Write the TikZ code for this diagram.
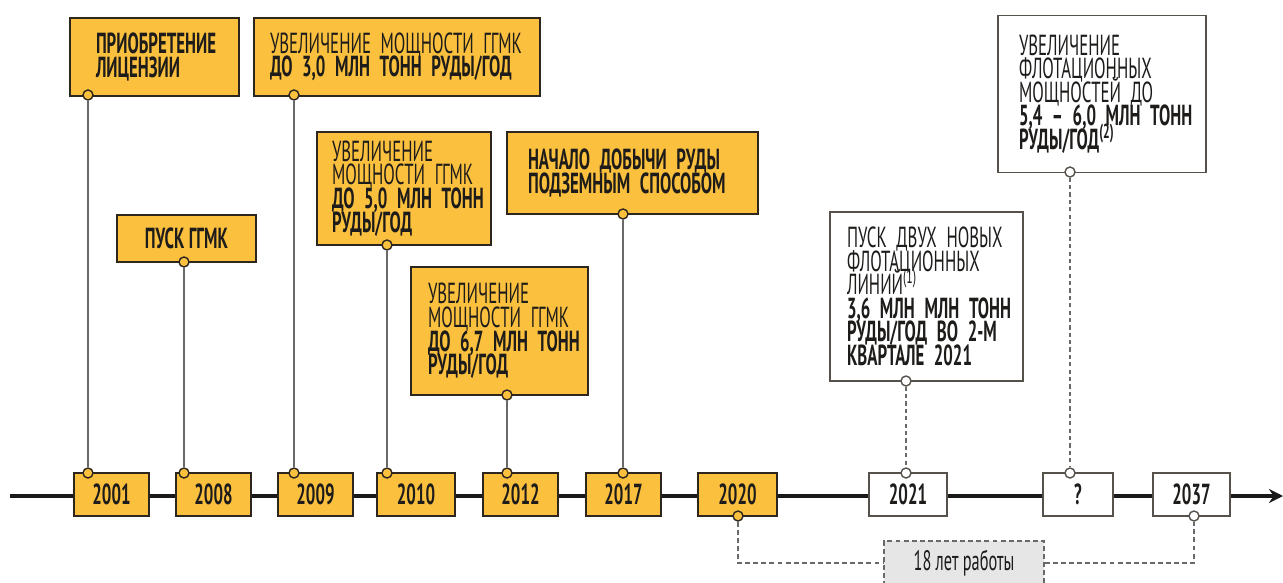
\documentclass[tikz,border=0pt]{standalone}
\usepackage{fontspec}
\setmainfont{PT Sans}[FakeStretch=0.58]
\usetikzlibrary{arrows.meta}

\definecolor{gold}{RGB}{250,192,62}
\definecolor{edge}{RGB}{45,38,30}
\definecolor{stem}{RGB}{105,105,105}
\definecolor{ink}{RGB}{30,28,26}
\definecolor{spanfill}{RGB}{230,230,230}
\newlength\pxu
\setlength\pxu{0.02cm}
\newcommand\tightsp{\spaceskip=2.4pt\relax\lineskiplimit=-20pt\relax}

\tikzset{
  ybox/.style={draw=edge, fill=gold, line width=0.9pt, text=ink, align=left,
    inner ysep=0pt, font=\fontsize{16.5}{13.4}\selectfont\tightsp},
  wbox/.style={ybox, draw=edge!80, fill=white},
  yr/.style={ybox, align=center, inner sep=0pt, minimum width=75\pxu,
    minimum height=43\pxu, font=\fontsize{16.5}{14}\selectfont\bfseries},
  yrw/.style={yr, draw=edge!80, fill=white},
  dot/.style={circle, draw=edge, fill=gold, line width=0.8pt, inner sep=0pt,
    minimum size=10\pxu},
  wdot/.style={dot, draw=edge!80, fill=white},
  stemline/.style={draw=stem, line width=1.1pt},
  dstem/.style={stemline, dash pattern=on 2.4pt off 1.8pt},
  brk/.style={draw=stem, line width=1pt, dash pattern=on 2.8pt off 1.8pt},
  spanbox/.style={draw=stem, fill=spanfill, line width=1pt,
    dash pattern=on 2.8pt off 1.8pt, text=ink, inner sep=0pt,
    font=\fontsize{16}{13.4}\selectfont\tightsp},
  axis/.style={draw=black!90, line width=2.3pt, -{Stealth[length=8pt, width=8pt]}}
}

\begin{document}
\begin{tikzpicture}[x=0.02cm, y=-0.02cm]
  \clip (0,0) rectangle (1283,582);

  % ось времени
  \coordinate (ax0) at (10,496);
  \coordinate (ax1) at (1283,496);
  \draw[axis] (ax0) -- (ax1);

  % годы на оси
  \node[yr] (y2001) at (111.5,494.5) {2001};
  \node[yr] (y2008) at (213.5,494.5) {2008};
  \node[yr] (y2009) at (315.5,494.5) {2009};
  \node[yr, minimum width=78\pxu] (y2010) at (416,494.5) {2010};
  \node[yr] (y2012) at (520.5,494.5) {2012};
  \node[yr] (y2017) at (623.5,494.5) {2017};
  \node[yr, minimum width=79\pxu] (y2020) at (737.5,494.5) {2020};
  \node[yrw, minimum width=78\pxu] (y2021) at (908,494.5) {2021};
  \node[yrw, minimum width=70\pxu] (yq) at (1078,494.5) {?};
  \node[yrw, minimum width=77\pxu] (y2037) at (1191.5,494.5) {2037};

  % события
  \node[ybox, minimum width=169\pxu, minimum height=78\pxu, text width=117\pxu,
    inner xsep=26\pxu] (lic) at (154.5,57)
    {\bfseries ПРИОБРЕТЕНИЕ\\ЛИЦЕНЗИИ};
  \node[ybox, minimum width=286\pxu, minimum height=78\pxu, text width=254\pxu,
    inner xsep=16\pxu] (cap3) at (397,57)
    {\mbox{УВЕЛИЧЕНИЕ МОЩНОСТИ ГГМК}\\\bfseries\mbox{ДО 3,0 МЛН ТОНН РУДЫ/ГОД}};
  \node[ybox, align=center, minimum width=139\pxu, minimum height=47\pxu,
    font=\fontsize{16.5}{13.4}\selectfont\bfseries\tightsp] (pusk) at (186.5,238.5)
    {ПУСК ГГМК};
  \node[ybox, minimum width=174\pxu, minimum height=113\pxu, text width=144\pxu,
    inner xsep=15\pxu] (cap5) at (404,188.5)
    {УВЕЛИЧЕНИЕ\\\mbox{МОЩНОСТИ ГГМК}\\\bfseries\mbox{ДО 5,0 МЛН ТОНН}\\РУДЫ/ГОД};
  \node[ybox, minimum width=177\pxu, minimum height=128\pxu, text width=143\pxu,
    inner xsep=17\pxu] (cap67) at (499.5,331)
    {УВЕЛИЧЕНИЕ\\\mbox{МОЩНОСТИ ГГМК}\\\bfseries\mbox{ДО 6,7 МЛН ТОНН}\\РУДЫ/ГОД};
  \node[ybox, minimum width=251\pxu, minimum height=82\pxu, text width=209\pxu,
    inner xsep=21\pxu] (under) at (632.5,173)
    {\bfseries\mbox{НАЧАЛО ДОБЫЧИ РУДЫ}\\\mbox{ПОДЗЕМНЫМ СПОСОБОМ}};
  \node[wbox, minimum width=193\pxu, minimum height=169\pxu, text width=159\pxu,
    inner xsep=17\pxu] (flot21) at (926.5,296.5)
    {\mbox{ПУСК ДВУХ НОВЫХ}\\ФЛОТАЦИОННЫХ\\ЛИНИЙ\textsuperscript{(1)}\\\bfseries\mbox{3,6 МЛН МЛН ТОНН}\\\mbox{РУДЫ/ГОД ВО 2-М}\\\mbox{КВАРТАЛЕ 2021}};
  \node[wbox, minimum width=208\pxu, minimum height=157\pxu, text width=166\pxu,
    inner xsep=21\pxu] (flot) at (1102,94)
    {УВЕЛИЧЕНИЕ\\ФЛОТАЦИОННЫХ\\\mbox{МОЩНОСТЕЙ ДО}\\\bfseries\mbox{5,4 – 6,0 МЛН ТОНН}\\РУДЫ/ГОД\textsuperscript{(2)}};

  % точки крепления
  \node[dot] (lic-d) at (88,95) {};
  \node[dot] (pusk-d) at (184,262) {};
  \node[dot] (cap3-d) at (294,95) {};
  \node[dot] (cap5-d) at (387,245) {};
  \node[dot] (cap67-d) at (507,395) {};
  \node[dot] (under-d) at (623,214) {};
  \node[wdot] (flot21-d) at (906,381) {};
  \node[wdot] (flot-d) at (1070,172) {};

  \node[dot] (y2001-d) at (88,473) {};
  \node[dot] (y2008-d) at (184,473) {};
  \node[dot] (y2009-d) at (294,473) {};
  \node[dot] (y2010-d) at (387,473) {};
  \node[dot] (y2012-d) at (507,473) {};
  \node[dot] (y2017-d) at (623,473) {};
  \node[wdot] (y2021-d) at (906,473) {};
  \node[wdot] (yq-d) at (1070,473) {};
  \node[dot] (y2020-d) at (738,516) {};
  \node[wdot] (y2037-d) at (1194,516) {};

  % выноски
  \draw[stemline] (lic-d) -- (y2001-d);
  \draw[stemline] (pusk-d) -- (y2008-d);
  \draw[stemline] (cap3-d) -- (y2009-d);
  \draw[stemline] (cap5-d) -- (y2010-d);
  \draw[stemline] (cap67-d) -- (y2012-d);
  \draw[stemline] (under-d) -- (y2017-d);
  \draw[dstem] (flot21-d) -- (y2021-d);
  \draw[dstem] (flot-d) -- (yq-d);

  % срок работы
  \node[spanbox, minimum width=160\pxu, minimum height=44\pxu] (span) at (964,563)
    {18 лет работы};
  \draw[brk] (y2020-d) |- (span.west);
  \draw[brk] (span.east) -| (y2037-d);
\end{tikzpicture}
\end{document}
